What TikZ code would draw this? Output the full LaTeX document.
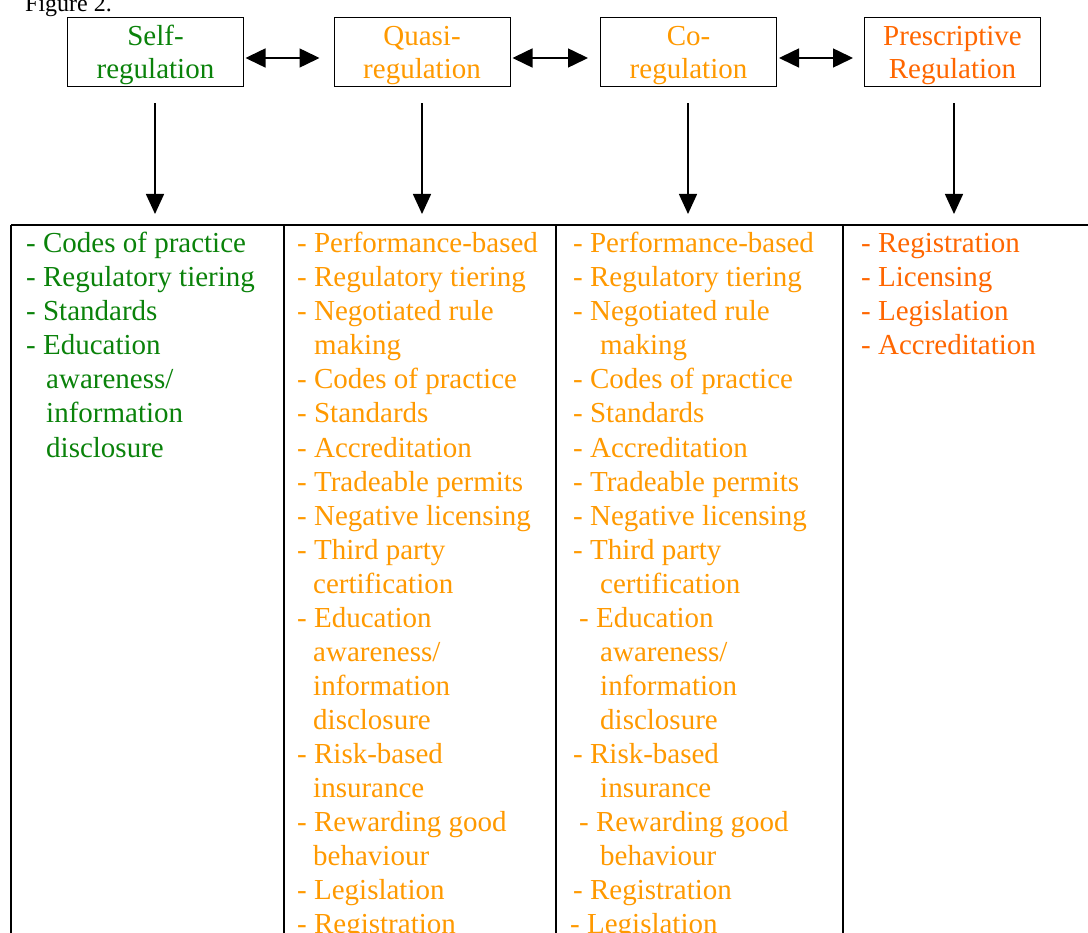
\documentclass[tikz,border=0pt]{standalone}
\usepackage{fontspec}
\setmainfont{Liberation Serif}
\usetikzlibrary{arrows.meta}
\definecolor{selfgreen}{RGB}{10,130,10}
\definecolor{lightorange}{RGB}{255,153,0}
\definecolor{deeporange}{RGB}{255,102,0}
\begin{document}
\begin{tikzpicture}[x=1pt,y=-1pt,
  topbox/.style={draw, line width=1pt, minimum width=176pt, minimum height=69pt, inner sep=0pt},
  ttl/.style={font=\fontsize{29}{33}\selectfont, inner sep=0pt, anchor=base},
  item/.style={font=\fontsize{29}{34}\selectfont, inner sep=0pt, anchor=base west},
  biarr/.style={{Triangle[length=20pt,width=19pt]}-{Triangle[length=20pt,width=19pt]}, line width=1.5pt},
  darr/.style={-{Triangle[length=20pt,width=18pt]}, line width=1.5pt},
  gridline/.style={line width=1.2pt}]
\useasboundingbox (0,0) rectangle (1088,933);
\clip (0,0) rectangle (1088,933);

% caption
\node[font=\fontsize{24}{28}\selectfont, inner sep=0pt, anchor=base west] (fig) at (25,12) {Figure 2.};

% top boxes
\node[topbox] (self) at (155.5,52.5) {};
\node[topbox] (quasi) at (422,52.5) {};
\node[topbox] (co) at (688.5,52.5) {};
\node[topbox] (presc) at (952.5,52.5) {};
\node[ttl, text=selfgreen] (selfa) at (155.5,46) {Self-};
\node[ttl, text=selfgreen] (selfb) at (155.5,79) {regulation};
\node[ttl, text=lightorange] (quasia) at (422,46) {Quasi-};
\node[ttl, text=lightorange] (quasib) at (422,79) {regulation};
\node[ttl, text=lightorange] (coa) at (688.5,46) {Co-};
\node[ttl, text=lightorange] (cob) at (688.5,79) {regulation};
\node[ttl, text=deeporange] (presca) at (952.5,46) {Prescriptive};
\node[ttl, text=deeporange] (prescb) at (952.5,79) {Regulation};

% horizontal double arrows
\draw[biarr, shorten <=1.5pt, shorten >=14pt] ([yshift=-5.5pt]self.east) -- ([yshift=-5.5pt]quasi.west);
\draw[biarr, shorten <=2pt, shorten >=12pt] ([yshift=-5.5pt]quasi.east) -- ([yshift=-5.5pt]co.west);
\draw[biarr, shorten <=2pt, shorten >=11pt] ([yshift=-5.5pt]co.east) -- ([yshift=-5.5pt]presc.west);

% table
\coordinate (t1) at (155,225);
\coordinate (t2) at (422,225);
\coordinate (t3) at (688,225);
\coordinate (t4) at (954,225);
\coordinate (tl) at (11,225);
\coordinate (tr) at (1090,225);
\draw[gridline] (tl) -- (tr);
\draw[gridline] (tl) -- (11,940);
\draw[gridline] (284,225) -- (284,940);
\draw[gridline] (556,225) -- (556,940);
\draw[gridline] (843,225) -- (843,940);

% down arrows
\draw[darr, shorten <=16pt, shorten >=11pt] (t1 |- self.south) -- (t1);
\draw[darr, shorten <=16pt, shorten >=11pt] (t2 |- quasi.south) -- (t2);
\draw[darr, shorten <=16pt, shorten >=11pt] (t3 |- co.south) -- (t3);
\draw[darr, shorten <=16pt, shorten >=11pt] (t4 |- presc.south) -- (t4);

% column 1
\foreach \dx/\t [count=\i] in {0/- Codes of practice, 0/- Regulatory tiering, 0/- Standards, 0/- Education, 20/{awareness/}, 20/information, 20/disclosure}
  \node[item, text=selfgreen] (ca-\i) at ({26+\dx},{253+34*(\i-1)}) {\t};

% column 2
\foreach \dx/\t [count=\i] in {0/- Performance-based, 0/- Regulatory tiering, 0/- Negotiated rule, 17/making, 0/- Codes of practice, 0/- Standards, 0/- Accreditation, 0/- Tradeable permits, 0/- Negative licensing, 0/- Third party, 16/certification, 0/- Education, 16/{awareness/}, 16/information, 16/disclosure, 0/- Risk-based, 16/insurance, 0/- Rewarding good, 16/behaviour, 0/- Legislation, 0/- Registration}
  \node[item, text=lightorange] (cb-\i) at ({297+\dx},{253+34*(\i-1)}) {\t};

% column 3
\foreach \dx/\t [count=\i] in {0/- Performance-based, 0/- Regulatory tiering, 0/- Negotiated rule, 27/making, 0/- Codes of practice, 0/- Standards, 0/- Accreditation, 0/- Tradeable permits, 0/- Negative licensing, 0/- Third party, 27/certification, 6/- Education, 27/{awareness/}, 27/information, 27/disclosure, 0/- Risk-based, 27/insurance, 6/- Rewarding good, 27/behaviour, 0/- Registration, -3/- Legislation}
  \node[item, text=lightorange] (cc-\i) at ({573+\dx},{253+34*(\i-1)}) {\t};

% column 4
\foreach \t [count=\i] in {- Registration, - Licensing, - Legislation, - Accreditation}
  \node[item, text=deeporange] (cd-\i) at (861,{253+34*(\i-1)}) {\t};
\end{tikzpicture}
\end{document}
